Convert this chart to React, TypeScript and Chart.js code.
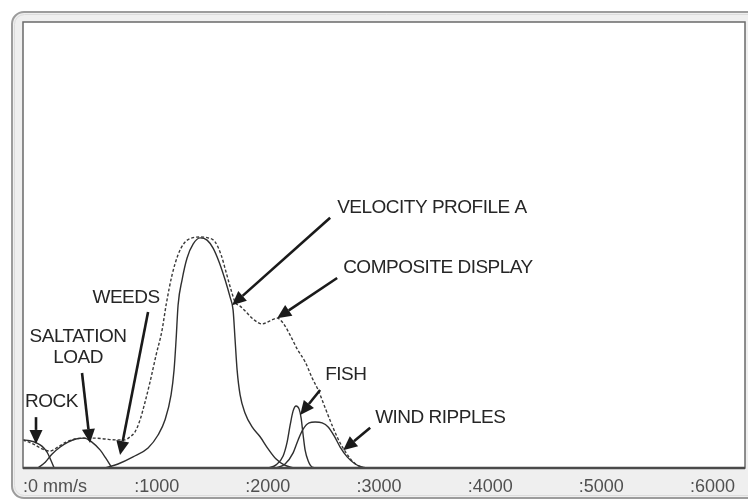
import React, { useEffect, useRef } from 'react';
import { Chart, registerables } from 'chart.js';

Chart.register(...registerables);

// ---- data (x: velocity in mm/s, y: relative amplitude 0..100) ----
const rockX = [0, 60, 125, 170, 215, 250, 280];
const rockY = [6.3, 6.1, 5.6, 4.9, 3.6, 1.8, 0];

const saltationX = [135, 200, 260, 335, 405, 475, 550, 620, 695, 745, 800];
const saltationY = [0, 1.3, 3.1, 4.7, 5.8, 6.5, 6.7, 5.8, 4.0, 2.2, 0];

const velocityX = [738, 855, 990, 1125, 1215, 1278, 1332, 1359, 1377, 1395, 1431, 1476, 1530, 1593, 1656, 1710, 1764, 1818, 1863, 1890, 1908, 1926, 1953, 1998, 2061, 2133, 2205, 2277, 2349, 2439];
const velocityY = [0, 0.9, 2.5, 4.5, 7.4, 10.8, 16.4, 22.0, 28.7, 36.5, 42.2, 47.1, 50.2, 51.6, 51.1, 49.3, 46.2, 42.2, 38.3, 35.4, 28.7, 22.0, 16.4, 12.3, 9.2, 7.0, 4.3, 2.0, 0.7, 0];

const fishX = [2205, 2277, 2340, 2376, 2403, 2430, 2457, 2484, 2502, 2520, 2538, 2565, 2601, 2655];
const fishY = [0, 0.7, 2.7, 5.8, 9.6, 12.8, 13.9, 13.2, 11.2, 7.4, 4.0, 1.6, 0.2, 0];

const windX = [2277, 2358, 2430, 2475, 2520, 2574, 2628, 2691, 2745, 2799, 2853, 2916, 2988, 3078];
const windY = [0, 0.9, 3.4, 6.3, 8.7, 10.1, 10.3, 10.1, 9.2, 7.2, 4.7, 2.5, 0.9, 0];

const compositeX = [0, 90, 171, 243, 315, 387, 468, 558, 648, 738, 828, 918, 963, 1008, 1053, 1098, 1143, 1197, 1251, 1287, 1341, 1395, 1449, 1521, 1593, 1665, 1728, 1782, 1827, 1872, 1908, 1953, 2007, 2079, 2151, 2223, 2286, 2340, 2403, 2466, 2538, 2601, 2655, 2718, 2790, 2853, 2907, 2961, 3024, 3096];
const compositeY = [6.3, 5.4, 4.3, 3.8, 4.7, 5.8, 6.5, 6.7, 6.7, 6.5, 6.3, 6.3, 7.0, 8.1, 10.8, 14.8, 19.3, 25.3, 30.9, 36.5, 43.3, 47.8, 50.4, 51.6, 51.8, 51.6, 50.7, 47.8, 43.9, 39.9, 37.2, 36.3, 35.0, 33.2, 32.3, 33.0, 33.6, 32.5, 29.8, 26.7, 23.8, 20.2, 17.5, 13.5, 9.0, 5.6, 3.4, 1.6, 0.4, 0];

const tickValues = [0, 1000, 2000, 3000, 4000, 5000, 6000];
const tickUnit = 'mm/s';

// annotation labels (data coordinates)
const labelTexts = ['ROCK', 'SALTATION', 'LOAD', 'WEEDS', 'VELOCITY PROFILE A', 'COMPOSITE DISPLAY', 'FISH', 'WIND RIPPLES'];
const labelX = [18, 495, 495, 927, 2826, 2880, 2718, 3168];
const labelY = [14.8, 29.4, 24.7, 38.1, 58.3, 44.8, 20.9, 11.2];
const labelAlign = ['left', 'center', 'center', 'center', 'left', 'left', 'left', 'left'];

// arrows (data coordinates): from -> to (tip)
const arrowFromX = [117, 531, 1125, 2763, 2826, 2673, 3123];
const arrowFromY = [11.4, 21.3, 35.0, 56.1, 42.6, 17.5, 9.0];
const arrowToX = [117, 603, 873, 1881, 2286, 2493, 2880];
const arrowToY = [5.4, 5.6, 2.9, 36.5, 33.6, 11.9, 4.0];

const zip = (xs: number[], ys: number[]) => xs.map((x, i) => ({ x, y: ys[i] }));

const framePlugin = {
  id: 'frame',
  beforeDraw(chart: any) {
    const { ctx, chartArea: a, width, height } = chart;
    ctx.save();
    ctx.fillStyle = '#ffffff';
    ctx.fillRect(0, 0, width, height);
    ctx.beginPath();
    ctx.roundRect(12, 12, width + 10, height - 14, 12);
    ctx.fillStyle = '#efefef';
    ctx.fill();
    ctx.lineWidth = 2;
    ctx.strokeStyle = '#9c9c9c';
    ctx.stroke();
    ctx.beginPath();
    ctx.roundRect(14.5, 14.5, width + 10, height - 19, 10);
    ctx.lineWidth = 1;
    ctx.strokeStyle = '#dcdcdc';
    ctx.stroke();
    ctx.fillStyle = '#ffffff';
    ctx.fillRect(a.left, a.top, a.right - a.left, a.bottom - a.top);
    ctx.restore();
  },
  afterDatasetsDraw(chart: any) {
    const { ctx, chartArea: a, scales } = chart;
    const xs = scales.x;
    const ys = scales.y;
    ctx.save();
    // plot border
    ctx.lineWidth = 1.5;
    ctx.strokeStyle = '#6a6a6a';
    ctx.strokeRect(a.left, a.top, a.right - a.left, a.bottom - a.top);
    ctx.beginPath();
    ctx.moveTo(a.left, a.bottom);
    ctx.lineTo(a.right, a.bottom);
    ctx.lineWidth = 2.5;
    ctx.strokeStyle = '#4a4a4a';
    ctx.stroke();

    // arrows
    ctx.fillStyle = '#1a1a1a';
    ctx.strokeStyle = '#1a1a1a';
    for (let i = 0; i < arrowFromX.length; i++) {
      const x1 = xs.getPixelForValue(arrowFromX[i]);
      const y1 = ys.getPixelForValue(arrowFromY[i]);
      const x2 = xs.getPixelForValue(arrowToX[i]);
      const y2 = ys.getPixelForValue(arrowToY[i]);
      const ang = Math.atan2(y2 - y1, x2 - x1);
      const headLen = 14;
      const headHalf = 6.5;
      const bx = x2 - headLen * Math.cos(ang);
      const by = y2 - headLen * Math.sin(ang);
      ctx.beginPath();
      ctx.moveTo(x1, y1);
      ctx.lineTo(bx, by);
      ctx.lineWidth = 2.6;
      ctx.stroke();
      ctx.beginPath();
      ctx.moveTo(x2, y2);
      ctx.lineTo(bx + headHalf * Math.sin(ang), by - headHalf * Math.cos(ang));
      ctx.lineTo(bx - headHalf * Math.sin(ang), by + headHalf * Math.cos(ang));
      ctx.closePath();
      ctx.fill();
    }

    // labels
    ctx.font = '19px "Liberation Sans", Arial, sans-serif';
    try { (ctx as any).letterSpacing = '-0.5px'; } catch (e) {}
    ctx.fillStyle = '#262626';
    ctx.textBaseline = 'middle';
    for (let i = 0; i < labelTexts.length; i++) {
      ctx.textAlign = labelAlign[i] as CanvasTextAlign;
      ctx.fillText(labelTexts[i], xs.getPixelForValue(labelX[i]), ys.getPixelForValue(labelY[i]));
    }
    ctx.restore();
  },
};

const lineStyle = {
  borderColor: '#2f2f2f',
  borderWidth: 1.4,
  pointRadius: 0,
  fill: false,
  cubicInterpolationMode: 'monotone' as const,
};

export default function App() {
  const ref = useRef<HTMLCanvasElement>(null);
  useEffect(() => {
    if (!ref.current) return;
    const chart = new Chart(ref.current, {
      type: 'line',
      data: {
        datasets: [
          { label: 'Rock', data: zip(rockX, rockY), ...lineStyle },
          { label: 'Saltation load', data: zip(saltationX, saltationY), ...lineStyle },
          { label: 'Velocity profile A', data: zip(velocityX, velocityY), ...lineStyle },
          { label: 'Fish', data: zip(fishX, fishY), ...lineStyle },
          { label: 'Wind ripples', data: zip(windX, windY), ...lineStyle },
          { label: 'Composite display', data: zip(compositeX, compositeY), ...lineStyle, borderColor: '#3a3a3a', borderDash: [3, 2] },
        ],
      },
      options: {
        responsive: false,
        animation: false,
        devicePixelRatio: 1,
        layout: { padding: { left: 23, top: 22, right: 3, bottom: 0 } },
        plugins: { legend: { display: false }, tooltip: { enabled: false } },
        scales: {
          x: {
            type: 'linear',
            min: 0,
            max: 6495,
            grid: { display: false },
            border: { display: false },
            afterFit: (s: any) => { s.height = 32; },
            afterBuildTicks: (s: any) => { s.ticks = tickValues.map((v) => ({ value: v })); },
            ticks: {
              align: 'start',
              autoSkip: false,
              maxRotation: 0,
              padding: 0,
              color: '#505050',
              font: { family: '"Liberation Sans", Arial, sans-serif', size: 18 },
              callback: (v: any) => (v === 0 ? ':0 ' + tickUnit : ':' + v),
            },
          },
          y: { type: 'linear', display: false, min: 0, max: 100 },
        },
      },
      plugins: [framePlugin],
    });
    return () => chart.destroy();
  }, []);
  return (
    <div style={{ position: 'fixed', left: 0, top: 0, width: 748, height: 500, background: '#fff' }}>
      <canvas ref={ref} width={748} height={500} style={{ display: 'block' }} />
    </div>
  );
}
